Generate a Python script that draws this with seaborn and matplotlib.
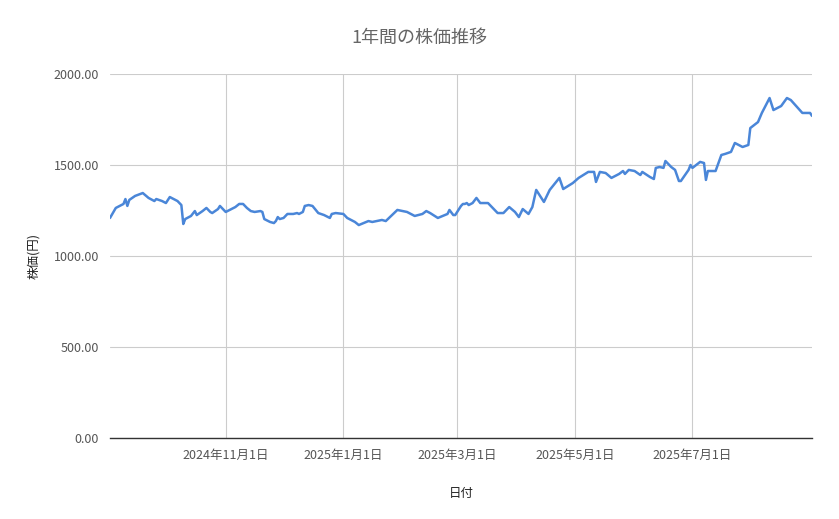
import matplotlib
matplotlib.use("Agg")
import matplotlib.pyplot as plt
import seaborn as sns
import pandas as pd

dates = ["2024-09-02","2024-09-05","2024-09-09","2024-09-10","2024-09-11","2024-09-12","2024-09-15","2024-09-19",
"2024-09-22","2024-09-25","2024-09-26","2024-09-29","2024-10-01","2024-10-03","2024-10-07","2024-10-09","2024-10-10",
"2024-10-11","2024-10-14","2024-10-16","2024-10-17","2024-10-20","2024-10-22","2024-10-24","2024-10-25","2024-10-28",
"2024-10-29","2024-11-01","2024-11-03","2024-11-06","2024-11-08","2024-11-10","2024-11-12","2024-11-14","2024-11-16",
"2024-11-19","2024-11-20","2024-11-21","2024-11-24","2024-11-26","2024-11-27","2024-11-28","2024-11-29","2024-12-01",
"2024-12-03","2024-12-06","2024-12-08","2024-12-09","2024-12-11","2024-12-12","2024-12-14","2024-12-16","2024-12-19",
"2024-12-22","2024-12-25","2024-12-26","2024-12-28","2025-01-01","2025-01-03","2025-01-07","2025-01-09","2025-01-14",
"2025-01-16","2025-01-21","2025-01-23","2025-01-29","2025-02-03","2025-02-07","2025-02-11","2025-02-13","2025-02-15",
"2025-02-19","2025-02-24","2025-02-25","2025-02-27","2025-02-28","2025-03-03","2025-03-04","2025-03-05","2025-03-06",
"2025-03-07","2025-03-09","2025-03-11","2025-03-13","2025-03-17","2025-03-22","2025-03-25","2025-03-28","2025-03-31",
"2025-04-02","2025-04-04","2025-04-07","2025-04-09","2025-04-11","2025-04-15","2025-04-18","2025-04-23","2025-04-25",
"2025-04-30","2025-05-03","2025-05-08","2025-05-11","2025-05-12","2025-05-14","2025-05-17","2025-05-20","2025-05-24",
"2025-05-26","2025-05-27","2025-05-29","2025-06-01","2025-06-04","2025-06-05","2025-06-09","2025-06-11","2025-06-12",
"2025-06-14","2025-06-16","2025-06-17","2025-06-20","2025-06-22","2025-06-24","2025-06-25","2025-06-29","2025-06-30",
"2025-07-01","2025-07-05","2025-07-07","2025-07-08","2025-07-09","2025-07-13","2025-07-16","2025-07-18","2025-07-21",
"2025-07-23","2025-07-27","2025-07-30","2025-07-31","2025-08-04","2025-08-06","2025-08-10","2025-08-12","2025-08-16",
"2025-08-19","2025-08-21","2025-08-27","2025-08-31","2025-09-01"]
prices = [1209,1264,1286,1313,1275,1308,1330,1346,
1319,1302,1313,1302,1291,1324,1302,1280,1176,
1203,1220,1247,1225,1247,1264,1242,1236,1258,
1275,1242,1253,1269,1286,1286,1264,1247,1242,
1247,1242,1203,1187,1181,1192,1214,1203,1209,
1231,1231,1236,1231,1242,1275,1280,1275,1236,
1225,1209,1231,1236,1231,1209,1187,1170,1192,
1187,1198,1192,1253,1242,1220,1231,1247,1236,
1209,1231,1253,1225,1225,1275,1286,1286,1291,
1280,1291,1319,1291,1291,1236,1236,1269,1242,
1214,1258,1231,1269,1363,1297,1363,1429,1368,
1401,1429,1462,1462,1407,1462,1456,1429,1451,
1467,1451,1473,1467,1445,1462,1434,1423,1484,
1489,1484,1522,1489,1473,1412,1412,1473,1500,
1484,1517,1511,1418,1467,1467,1555,1561,1572,
1621,1599,1610,1703,1736,1786,1868,1802,1824,
1868,1857,1786,1786,1770]
tick_dates = ["2024-11-01","2025-01-01","2025-03-01","2025-05-01","2025-07-01"]
tick_labels = ["2024年11月1日","2025年1月1日","2025年3月1日","2025年5月1日","2025年7月1日"]
y_ticks = [0, 500, 1000, 1500, 2000]

sns.set_theme(style="white")
plt.rcParams['font.family'] = ['Noto Sans CJK JP', 'DejaVu Sans']

df = pd.DataFrame({"date": pd.to_datetime(dates), "price": prices})
fig = plt.figure(figsize=(8.39, 5.19), dpi=100)
ax = fig.add_axes([110/839, 1-438/519, (812-110)/839, (438-74)/519])
sns.lineplot(data=df, x="date", y="price", ax=ax, color="#4a86d8", linewidth=1.8)

ax.set_xlim(pd.Timestamp("2024-09-02"), pd.Timestamp("2025-09-01"))
ax.set_ylim(0, 2000)
ax.set_yticks(y_ticks)
ax.set_yticklabels([f"{v:.2f}" for v in y_ticks], color="#555555", fontsize=9)
ax.set_xticks(pd.to_datetime(tick_dates))
ax.set_xticklabels(tick_labels, color="#555555", fontsize=9)
ax.grid(True, color="#cccccc", linewidth=0.8)
ax.tick_params(length=0, pad=8)
for s in ["top", "right", "left"]:
    ax.spines[s].set_visible(False)
ax.spines["bottom"].set_color("#333333")
ax.spines["bottom"].set_linewidth(1)
ax.set_xlabel("日付", fontsize=9, color="#222222", labelpad=18)
ax.set_ylabel("株価(円)", fontsize=9, color="#222222", labelpad=10)
fig.text(0.5, 1-38/519, "1年間の株価推移", ha="center", va="center", fontsize=13, color="#666666")
fig.savefig("out.png", dpi=100, facecolor="white")
